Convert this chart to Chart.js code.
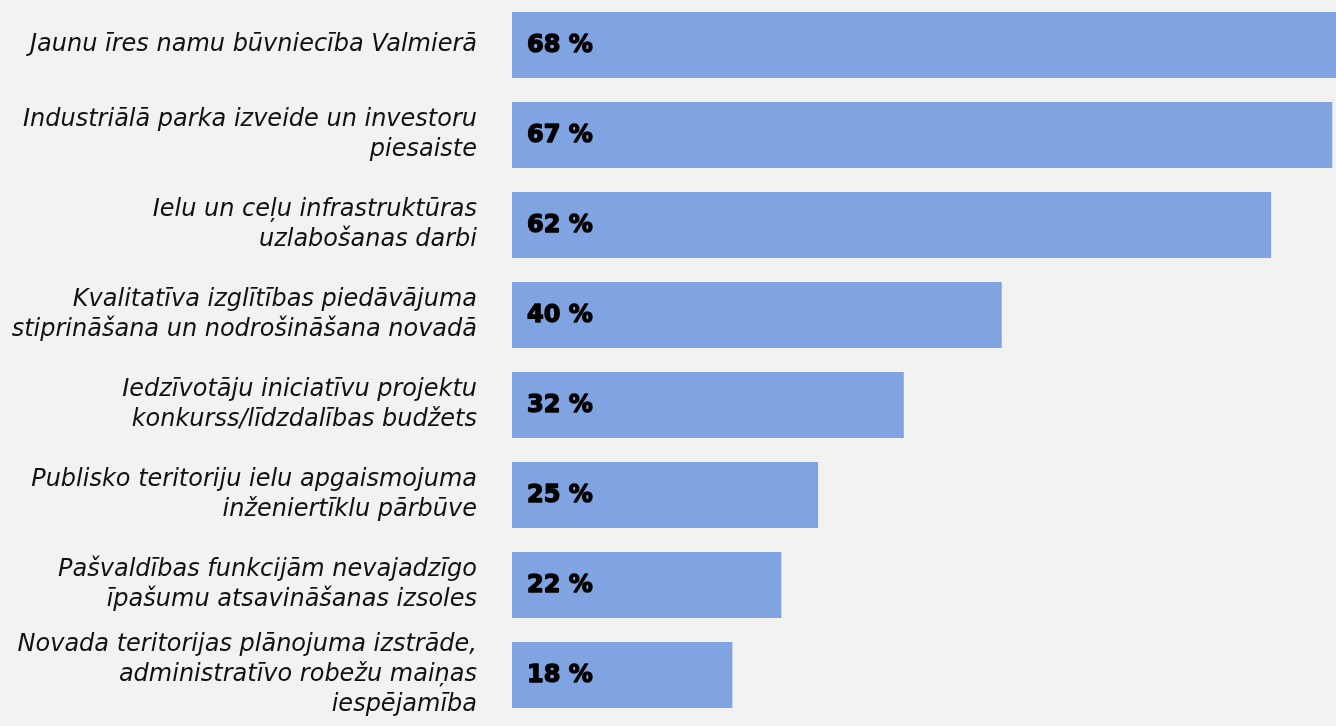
<!DOCTYPE html>
<html>
<head>
<meta charset="utf-8">
<script src="https://cdn.jsdelivr.net/npm/chart.js@4/dist/chart.umd.min.js"></script>
<style>
  html, body { margin: 0; padding: 0; background: #f2f2f2; overflow: hidden; }
  #wrap { width: 1336px; height: 726px; position: relative; }
</style>
</head>
<body>
<div id="wrap"><canvas id="c"></canvas></div>
<script>
const categories = [
  "Jaunu īres namu būvniecība Valmierā",
  ["Industriālā parka izveide un investoru", "piesaiste"],
  ["Ielu un ceļu infrastruktūras", "uzlabošanas darbi"],
  ["Kvalitatīva izglītības piedāvājuma", "stiprināšana un nodrošināšana novadā"],
  ["Iedzīvotāju iniciatīvu projektu", "konkurss/līdzdalības budžets"],
  ["Publisko teritoriju ielu apgaismojuma", "inženiertīklu pārbūve"],
  ["Pašvaldības funkcijām nevajadzīgo", "īpašumu atsavināšanas izsoles"],
  ["Novada teritorijas plānojuma izstrāde,", "administratīvo robežu maiņas", "iespējamība"]
];
const values = [68, 67, 62, 40, 32, 25, 22, 18];
const valueLabels = values.map(v => v + " %");

const bgPlugin = {
  id: 'bg',
  beforeDraw(chart) {
    const ctx = chart.ctx;
    ctx.save();
    ctx.fillStyle = '#f2f2f2';
    ctx.fillRect(0, 0, chart.width, chart.height);
    ctx.restore();
  }
};

const valuePlugin = {
  id: 'valueLabels',
  afterDatasetsDraw(chart) {
    const ctx = chart.ctx;
    const meta = chart.getDatasetMeta(0);
    ctx.save();
    ctx.font = 'bold 24px "DejaVu Sans"';
    ctx.fillStyle = '#000000';
    ctx.strokeStyle = '#000000';
    ctx.lineWidth = 1.4;
    ctx.lineJoin = 'round';
    ctx.textAlign = 'left';
    ctx.textBaseline = 'middle';
    meta.data.forEach((bar, i) => {
      ctx.fillText(valueLabels[i], bar.base + 15, bar.y + 1);
      ctx.strokeText(valueLabels[i], bar.base + 15, bar.y + 1);
    });
    ctx.restore();
  }
};

new Chart(document.getElementById('c'), {
  type: 'bar',
  data: {
    labels: categories,
    datasets: [{
      data: values,
      backgroundColor: '#7fa4e1',
      borderWidth: 0,
      barPercentage: 66 / 90,
      categoryPercentage: 1,
      clip: false
    }]
  },
  options: {
    indexAxis: 'y',
    responsive: true,
    maintainAspectRatio: false,
    animation: false,
    layout: { padding: { top: 0, bottom: 6, left: 0, right: 0 } },
    plugins: {
      legend: { display: false },
      tooltip: { enabled: false }
    },
    scales: {
      x: {
        display: false,
        min: 0,
        max: 67.3
      },
      y: {
        grid: { display: false },
        border: { display: false },
        afterFit(scale) {
          scale.width = 512;
          scale.paddingTop = 0;
          scale.paddingBottom = 0;
        },
        ticks: {
          autoSkip: false,
          padding: 27,
          color: '#111111',
          font: { family: '"DejaVu Sans"', style: 'italic', size: 24, lineHeight: 30 / 24 }
        }
      }
    }
  },
  plugins: [bgPlugin, valuePlugin]
});
</script>
</body>
</html>
